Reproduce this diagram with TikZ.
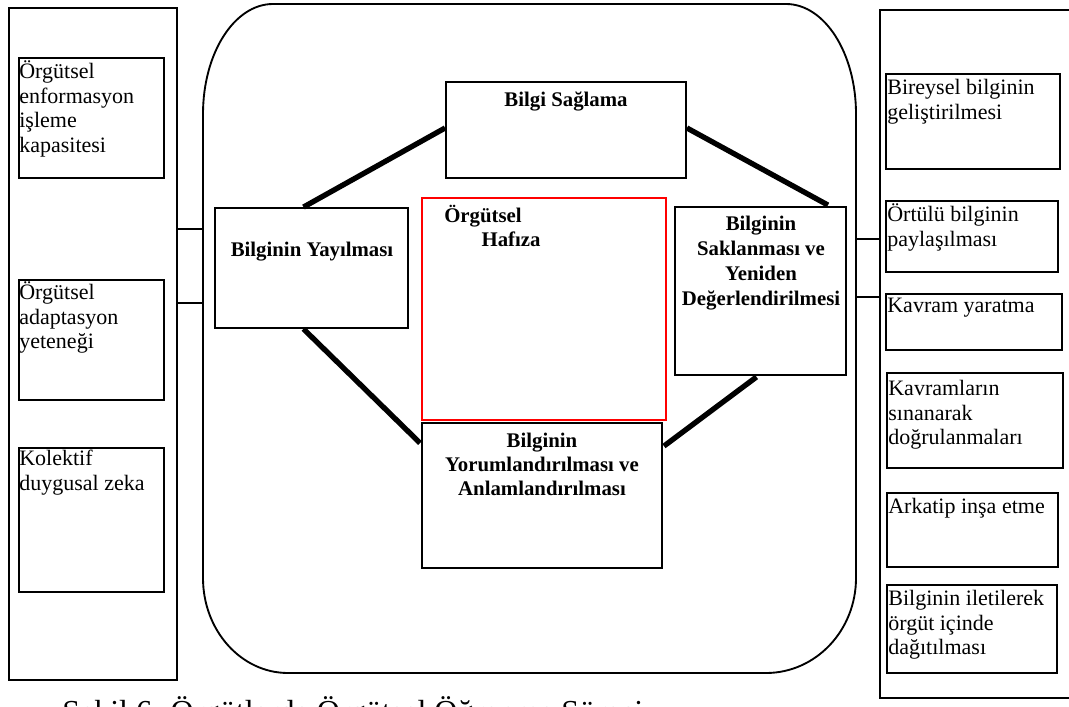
\documentclass[tikz,border=0pt]{standalone}
\usepackage{fontspec}
\setmainfont{Liberation Serif}
\usetikzlibrary{fit,calc}
\newcommand{\firstline}{\rule{0pt}{15pt}}
\begin{document}
\begin{tikzpicture}[x=0.75pt,y=-0.75pt,
  box/.style={draw, line width=1.4pt, inner sep=0pt},
  redbox/.style={draw=red, line width=1.8pt, inner sep=0pt},
  thin/.style={line width=1.4pt},
  thickline/.style={line width=4pt},
  plain/.style={font=\fontsize{16.5}{18.6}\selectfont, anchor=north west, inner sep=0pt, align=left},
  bold/.style={font=\fontsize{15.6}{18.4}\selectfont\bfseries, inner sep=0pt, align=center}]
\useasboundingbox (0,0) rectangle (1069,706);
\clip (0,0) rectangle (1069,706);
\fill[white] (0,0) rectangle (1069,706);

% left column
\node[box, fit={(9,8)(177,680)}] (L) {};
\node[box, fit={(19,58)(164,178)}] (L1) {};
\node[box, fit={(19,280)(164,400)}] (L2) {};
\node[box, fit={(19,448)(164,592)}] (L3) {};
\node[plain] at ($(L1.north west)+(1,1)$) {\firstline Örgütsel\\enformasyon\\işleme\\kapasitesi};
\node[plain] at ($(L2.north west)+(1,0)$) {\firstline Örgütsel\\adaptasyon\\yeteneği};
\node[plain] at ($(L3.north west)+(1,-2)$) {\firstline Kolektif\\duygusal zeka};

% right column
\node[box, fit={(880,10)(1100,698)}] (Rt) {};
\node[box, fit={(886,74)(1060,169)}] (R1) {};
\node[box, fit={(886,201)(1058,272)}] (R2) {};
\node[box, fit={(886,294)(1062,350)}] (R3) {};
\node[box, fit={(887,373)(1063,468)}] (R4) {};
\node[box, fit={(887,493)(1058,567)}] (R5) {};
\node[box, fit={(887,585)(1057,673)}] (R6) {};
\node[plain] at ($(R1.north west)+(2,1)$) {\firstline Bireysel bilginin\\geliştirilmesi};
\node[plain] at ($(R2.north west)+(2,1)$) {\firstline Örtülü bilginin\\paylaşılması};
\node[plain] at ($(R3.north west)+(2,-1)$) {\firstline Kavram yaratma};
\node[plain] at ($(R4.north west)+(2,3)$) {\firstline Kavramların\\sınanarak\\doğrulanmaları};
\node[plain] at ($(R5.north west)+(2,1)$) {\firstline Arkatip inşa etme};
\node[plain] at ($(R6.north west)+(2,1)$) {\firstline Bilginin iletilerek\\örgüt içinde\\dağıtılması};

% big rounded frame
\node[inner sep=0pt, fit={(203,4)(856,673)}] (R) {};
\draw[thin] (273,4) -- (786,4)
  .. controls (824.7,4) and (856,53.25) .. (856,114)
  -- (856,578)
  .. controls (856,630.5) and (815.7,673) .. (766,673)
  -- (288,673)
  .. controls (241.1,673) and (203,630.5) .. (203,578)
  -- (203,114)
  .. controls (203,53.25) and (234.3,4) .. (273,4) -- cycle;

% short connectors
\coordinate (ya) at (0,229);
\coordinate (yb) at (0,303);
\coordinate (yc) at (0,239);
\coordinate (yd) at (0,297);
\draw[thin] (L.east |- ya) -- (R.west |- ya);
\draw[thin] (L.east |- yb) -- (R.west |- yb);
\draw[thin] (R.east |- yc) -- (Rt.west |- yc);
\draw[thin] (R.east |- yd) -- (Rt.west |- yd);

% inner process boxes
\node[box, fit={(446,82)(686,178)}] (BS) {};
\node[box, fit={(215,208)(408,328)}] (BY) {};
\node[redbox, fit={(422,198)(666,420)}] (OH) {};
\node[box, fit={(675,207)(846,375)}] (SY) {};
\node[box, fit={(422,423)(662,568)}] (YA) {};

\node[bold, anchor=base] at (566,107) {Bilgi Sağlama};
\node[bold, anchor=base] at (312,256) {Bilginin Yayılması};
\node[bold, anchor=north west, align=left] at (444,202) {\firstline Örgütsel\\\hspace*{28pt}Hafıza};
\node[bold, anchor=north, font=\fontsize{15.6}{18.75}\selectfont\bfseries] at (761,210) {\firstline Bilginin\\Saklanması ve\\Yeniden\\Değerlendirilmesi};
\node[bold, anchor=north, font=\fontsize{15.6}{18}\selectfont\bfseries] at (542,427) {\firstline Bilginin\\Yorumlandırılması ve\\Anlamlandırılması};

% thick links
\draw[thickline] (BS.west |- 0,128) -- ($(BY.north)+(-8,0)$);
\draw[thickline] (BS.east |- 0,128) -- ($(SY.north east)+(-19,-1)$);
\draw[thickline] ($(BY.south)+(-8,0)$) -- ($(YA.north west)+(-1,21)$);
\draw[thickline] ($(SY.south)+(-4,1)$) -- ($(YA.north east)+(1,24)$);

% caption
\node[anchor=base west, inner sep=0pt, font=\fontsize{24}{28}\selectfont] (cap) at (62,722) {Şekil 6. Örgütlerde Örgütsel Öğrenme Süreci};
\end{tikzpicture}
\end{document}
